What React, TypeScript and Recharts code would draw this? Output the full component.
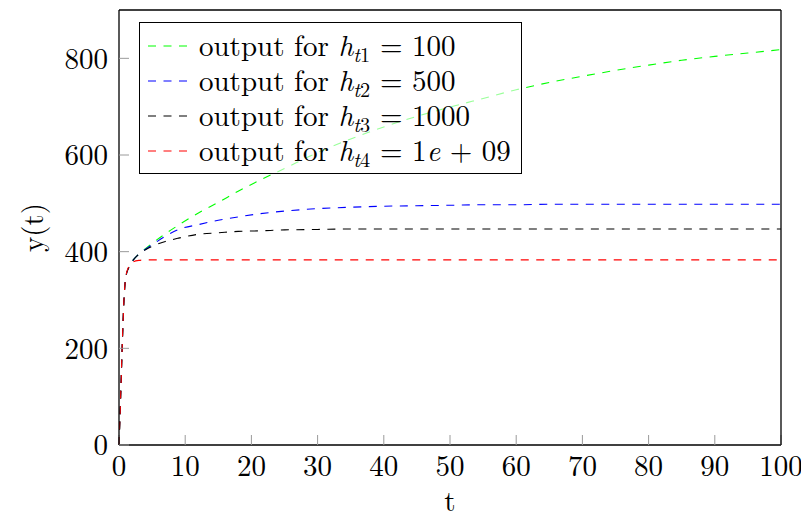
import React from 'react';
import { LineChart, Line, XAxis, YAxis, Legend } from 'recharts';

const tValues = [0, 0.25, 0.5, 0.75, 1, 1.5, 2, 3, 4, 5, 7, 9, 12, 15, 18, 21, 25, 30, 35, 40, 45, 50, 55, 60, 65, 70, 75, 80, 85, 90, 95, 100];
const outH100 = [0, 100, 210, 300, 345, 368, 380, 395, 406, 417, 437, 455, 480, 502, 525, 546, 572, 605, 633, 658, 680, 699, 717, 735, 750, 763, 775, 786, 796, 804, 811, 818];
const outH500 = [0, 100, 210, 300, 345, 368, 380, 395, 405, 414, 432, 446, 456, 465, 472, 478, 484, 489, 492, 494, 495, 496, 497, 497, 498, 498, 498, 498, 498, 498, 498, 498];
const outH1000 = [0, 100, 210, 300, 345, 368, 380, 395, 404, 411, 421, 428, 436, 439, 442, 443, 445, 446, 447, 447, 447, 447, 447, 447, 447, 447, 447, 447, 447, 447, 447, 447];
const outH1e9 = [0, 100, 210, 300, 345, 370, 378, 382, 383, 383, 383, 383, 383, 383, 383, 383, 383, 383, 383, 383, 383, 383, 383, 383, 383, 383, 383, 383, 383, 383, 383, 383];

const xTicks = [0, 10, 20, 30, 40, 50, 60, 70, 80, 90, 100];
const yTicks = [0, 200, 400, 600, 800];

const seriesKeys = ['h1', 'h2', 'h3', 'h4'];
const seriesColors = ['#00ff00', '#0000ff', '#000000', '#ff0000'];
const seriesSubs = ['1', '2', '3', '4'];

const data = tValues.map((t, i) => ({
  t,
  h1: outH100[i],
  h2: outH500[i],
  h3: outH1000[i],
  h4: outH1e9[i],
}));

const FONT = "'Latin Modern Roman', 'Liberation Serif', serif";
const FS = 29;
const DASH = '8 7.5';
const TICK_COLOR = '#9a9a9a';

const valueNodes = [
  <span>100</span>,
  <span>500</span>,
  <span>1000</span>,
  <span>1<i>e</i> + 09</span>,
];

const renderLegend = () => (
  <div
    style={{
      border: '1px solid #000',
      background: 'rgba(255,255,255,0.6)',
      padding: '5px 10px 5px 8px',
      fontFamily: FONT,
      fontSize: FS,
      color: '#000',
      lineHeight: '35px',
      display: 'inline-block',
    }}
  >
    {seriesKeys.map((k, i) => (
      <div key={k} style={{ display: 'flex', alignItems: 'center', height: 35, whiteSpace: 'nowrap', fontFamily: FONT }}>
        <svg width={39} height={10} style={{ marginRight: 12, display: 'block' }}>
          <line x1={0} y1={5} x2={39} y2={5} stroke={seriesColors[i]} strokeWidth={1.2} strokeDasharray={DASH} />
        </svg>
        <span style={{ fontFamily: FONT }}>
          output for <i>h</i>
          <span style={{ fontSize: '0.7em', verticalAlign: '-0.3em', lineHeight: '1' }}>
            <i>t</i>
            {seriesSubs[i]}
          </span>
          {' = '}
          {valueNodes[i]}
        </span>
      </div>
    ))}
  </div>
);

const xLabel = (p: any) => {
  const vb = p.viewBox;
  return (
    <text x={vb.x + vb.width / 2} y={vb.y + 66} textAnchor="middle" style={{ fontFamily: FONT, fontSize: FS }} fill="#000">
      t
    </text>
  );
};

const yLabel = (p: any) => {
  const vb = p.viewBox;
  const cx = vb.x + 30;
  const cy = vb.y + vb.height / 2;
  return (
    <text x={cx} y={cy} textAnchor="middle" dominantBaseline="central" style={{ fontFamily: FONT, fontSize: FS }} fill="#000" transform={`rotate(-90 ${cx} ${cy})`}>
      y(t)
    </text>
  );
};

export default function App() {
  return (
    <div style={{ position: 'absolute', left: 0, top: 0, width: 801, height: 514, background: '#fff', fontFamily: FONT }}>
      <LineChart width={801} height={514} data={data} margin={{ top: 0, right: 0, bottom: 0, left: 0 }} style={{ fontFamily: FONT }}>
        <XAxis
          xAxisId="b"
          dataKey="t"
          type="number"
          domain={[0, 100]}
          ticks={xTicks}
          interval={0}
          height={69}
          tickSize={-10}
          tickMargin={20}
          axisLine={{ stroke: '#000', strokeWidth: 1.3 }}
          tickLine={{ stroke: TICK_COLOR }}
          tick={{ fill: '#000', fontSize: FS, style: { fontFamily: FONT } }}
          label={xLabel}
        />
        <XAxis
          xAxisId="top"
          orientation="top"
          dataKey="t"
          type="number"
          domain={[0, 100]}
          ticks={xTicks}
          interval={0}
          height={10}
          tickSize={-10}
          axisLine={{ stroke: '#000', strokeWidth: 1.3 }}
          tickLine={{ stroke: TICK_COLOR }}
          tick={false}
        />
        <YAxis
          yAxisId="l"
          type="number"
          domain={[0, 900]}
          ticks={yTicks}
          interval={0}
          width={119}
          tickSize={-10}
          tickMargin={21}
          axisLine={{ stroke: '#000', strokeWidth: 1.3 }}
          tickLine={{ stroke: TICK_COLOR }}
          tick={{ fill: '#000', fontSize: FS, style: { fontFamily: FONT } }}
          label={yLabel}
        />
        <YAxis
          yAxisId="r"
          orientation="right"
          type="number"
          domain={[0, 900]}
          ticks={yTicks}
          interval={0}
          width={20}
          tickSize={-10}
          axisLine={{ stroke: '#000', strokeWidth: 1.3 }}
          tickLine={{ stroke: TICK_COLOR }}
          tick={false}
        />
        {seriesKeys.map((k, i) => (
          <Line
            key={k}
            xAxisId="b"
            yAxisId="l"
            dataKey={k}
            type="monotone"
            stroke={seriesColors[i]}
            strokeWidth={1.1}
            strokeDasharray={DASH}
            dot={false}
            activeDot={false}
            isAnimationActive={false}
          />
        ))}
        <Legend
          layout="vertical"
          align="center"
          verticalAlign="middle"
          content={renderLegend}
          wrapperStyle={{ left: 139, top: 22, width: 'auto', height: 'auto', right: 'auto', bottom: 'auto' }}
        />
      </LineChart>
    </div>
  );
}
